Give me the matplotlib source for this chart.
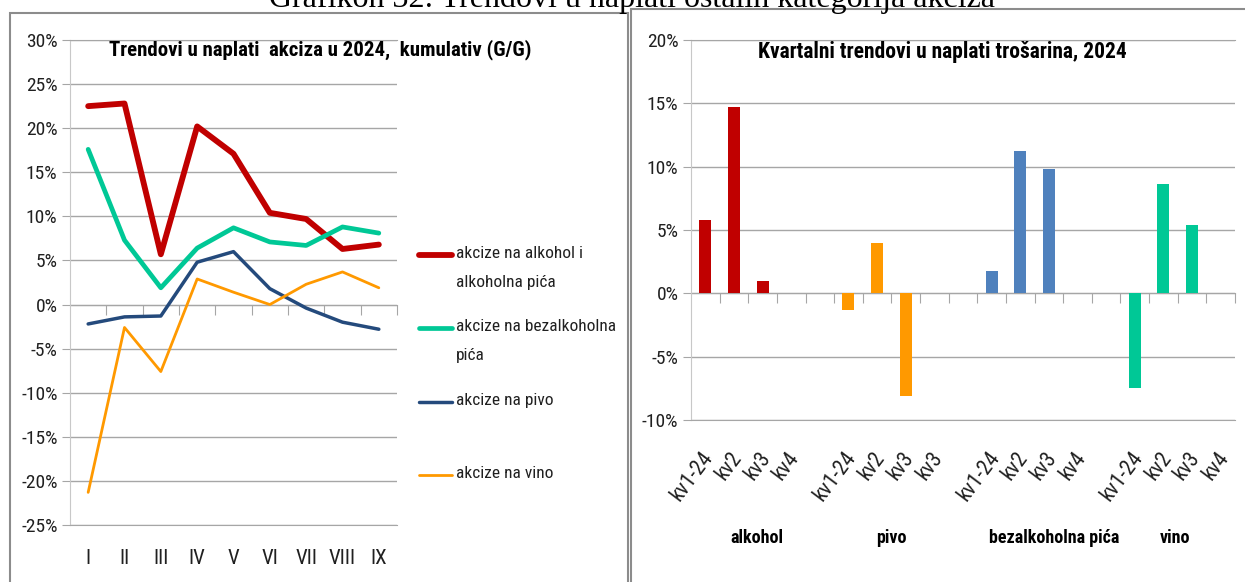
import matplotlib
matplotlib.use('Agg')
import matplotlib.pyplot as plt
from matplotlib.patches import Rectangle
from matplotlib.lines import Line2D
from matplotlib.ticker import PercentFormatter

# ── Data ──────────────────────────────────────────────────────────────────────
months = ['I', 'II', 'III', 'IV', 'V', 'VI', 'VII', 'VIII', 'IX']
alkohol_cum = [22.5, 22.8, 5.7, 20.2, 17.1, 10.4, 9.7, 6.3, 6.8]
bezalk_cum = [17.6, 7.3, 1.9, 6.4, 8.7, 7.1, 6.7, 8.8, 8.1]
pivo_cum = [-2.2, -1.4, -1.3, 4.8, 6.0, 1.8, -0.4, -2.0, -2.8]
vino_cum = [-21.3, -2.6, -7.6, 2.9, 1.4, 0.0, 2.3, 3.7, 1.9]

quarters = ['kv1-24', 'kv2', 'kv3', 'kv4', '',
            'kv1-24', 'kv2', 'kv3', 'kv3', '',
            'kv1-24', 'kv2', 'kv3', 'kv4', '',
            'kv1-24', 'kv2', 'kv3', 'kv4']
groups = ['alkohol', 'pivo', 'bezalkoholna pića', 'vino']
q_alkohol = [5.8, 14.7, 1.0, None]
q_pivo = [-1.3, 4.0, -8.1, None]
q_bezalk = [1.8, 11.2, 9.8, None]
q_vino = [-7.5, 8.6, 5.4, None]

# ── Style ─────────────────────────────────────────────────────────────────────
RED = '#C00000'
GREEN = '#00C896'
NAVY = '#244A7C'
ORANGE = '#FF9900'
BLUE = '#4F81BD'
GRID = '#a6a6a6'
FRAME = '#8c8c8c'
TXT = '#202020'

plt.rcParams['font.family'] = ['Roboto Condensed', 'Liberation Sans', 'DejaVu Sans']
plt.rcParams['axes.unicode_minus'] = False
W, H = 1245, 582
fig = plt.figure(figsize=(W / 100, H / 100), dpi=100)


def fx(px):
    return px / W


def fy(py):
    return 1 - py / H


# panel frames + header (cut off at the top edge, as in the source)
fig.patches.append(Rectangle((fx(10), fy(600)), fx(618), fy(13) - fy(600),
                             transform=fig.transFigure, fill=False,
                             ec=FRAME, lw=1.5))
fig.patches.append(Rectangle((fx(631), fy(600)), fx(640), fy(9) - fy(600),
                             transform=fig.transFigure, fill=False,
                             ec=FRAME, lw=1.5))
fig.text(fx(632), fy(7), 'Grafikon 32: Trendovi u naplati ostalih kategorija akciza',
         family='Liberation Serif', fontsize=23, ha='center', va='baseline')


def style_axes(ax):
    ax.grid(axis='y', color=GRID, lw=1)
    ax.set_axisbelow(True)
    ax.spines['right'].set_visible(False)
    for s in ('top', 'bottom'):
        ax.spines[s].set_color(GRID)
    ax.spines['left'].set_color('#c8c8c8')
    ax.yaxis.set_major_formatter(PercentFormatter(decimals=0))
    ax.tick_params(axis='y', length=6, color=GRID, labelsize=14, pad=3,
                   labelcolor=TXT)


# ── Left: cumulative line chart ───────────────────────────────────────────────
ax1 = fig.add_axes([fx(70), fy(525), fx(327), fy(40) - fy(525)])
x = list(range(len(months)))
series = [
    (alkohol_cum, RED, 4.2, 'akcize na alkohol i\nalkoholna pića'),
    (bezalk_cum, GREEN, 3.4, 'akcize na bezalkoholna\npića'),
    (pivo_cum, NAVY, 2.5, 'akcize na pivo'),
    (vino_cum, ORANGE, 2.0, 'akcize na vino'),
]
for vals, col, lw, _ in series:
    ax1.plot(x, vals, color=col, lw=lw, solid_capstyle='round', zorder=3)

ax1.set_xlim(-0.5, len(months) - 0.5)
ax1.set_ylim(-25, 30)
ax1.set_yticks(range(-25, 31, 5))
style_axes(ax1)
ax1.set_xticks(x)
ax1.set_xticklabels(months)
ax1.tick_params(axis='x', length=0, labelsize=15, pad=17, labelcolor=TXT)

sec1 = ax1.secondary_xaxis(25 / 55)
sec1.set_xticks([i + 0.5 for i in x])
sec1.set_xticklabels([])
sec1.tick_params(axis='x', direction='out', length=7, color=GRID)
sec1.spines['bottom'].set_color(GRID)

fig.text(fx(320), fy(50), 'Trendovi u naplati  akciza u 2024,  kumulativ (G/G)',
         fontsize=15, fontweight='bold', ha='center', va='center')

# legend drawn by hand, Excel style (key aligned with first text line)
leg_y = [255, 328, 402, 475]
for (vals, col, lw, label), py in zip(series, leg_y):
    fig.add_artist(Line2D([fx(419), fx(452)], [fy(py), fy(py)], color=col,
                          lw=lw, solid_capstyle='round',
                          transform=fig.transFigure))
    fig.text(fx(456), fy(py - 9), label, fontsize=12.5, ha='left', va='top',
             linespacing=2.2, color=TXT)

# ── Right: quarterly bar chart ────────────────────────────────────────────────
ax2 = fig.add_axes([fx(691), fy(420), fx(544), fy(40) - fy(420)])
bar_sets = [(q_alkohol, RED), (q_pivo, ORANGE), (q_bezalk, BLUE), (q_vino, GREEN)]
for g, (vals, col) in enumerate(bar_sets):
    for q, v in enumerate(vals):
        if v is None:
            continue
        ax2.bar(g * 5 + q, v, width=0.42, color=col, zorder=3)

ax2.set_xlim(-0.5, len(quarters) - 0.5)
ax2.set_ylim(-10, 20)
ax2.set_yticks(range(-10, 21, 5))
style_axes(ax2)
ax2.set_xticks([i - 0.15 for i in range(len(quarters))])
ax2.set_xticklabels(quarters, rotation=53, ha='right', rotation_mode='anchor')
ax2.tick_params(axis='x', length=0, labelsize=15.5, pad=20, labelcolor=TXT)

sec2 = ax2.secondary_xaxis(10 / 30)
sec2.set_xticks([i + 0.5 for i in range(len(quarters))])
sec2.set_xticklabels([])
sec2.tick_params(axis='x', direction='out', length=7, color=GRID)
sec2.spines['bottom'].set_color(GRID)

group_x = [1.8, 6.5, 12.2, 16.4]
for gx, name in zip(group_x, groups):
    ax2.text(gx, -0.31, name, transform=ax2.get_xaxis_transform(),
             fontsize=13, fontweight='bold', ha='center', va='center')

fig.text(fx(942), fy(52), 'Kvartalni trendovi u naplati trošarina, 2024',
         fontsize=15.5, fontweight='bold', ha='center', va='center')

fig.savefig('out.png', dpi=100)
